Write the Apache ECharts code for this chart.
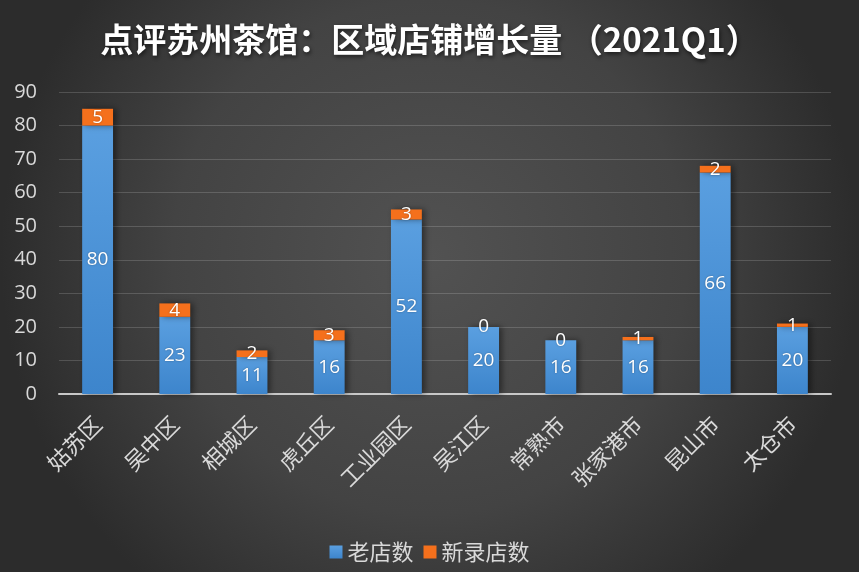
<!DOCTYPE html>
<html><head><meta charset="utf-8">
<script src="https://cdn.jsdelivr.net/npm/echarts@6/dist/echarts.min.js"></script>
<style>html,body{margin:0;padding:0;background:#3a3a3a}#c{width:859px;height:572px}</style>
</head><body><div id="c"></div>
<script>
var categories = ['姑苏区','吴中区','相城区','虎丘区','工业园区','吴江区','常熟市','张家港市','昆山市','太仓市'];
var oldStores = [80,23,11,16,52,20,16,16,66,20];
var newStores = [5,4,2,3,3,0,0,1,2,1];
var yTicks = [0,10,20,30,40,50,60,70,80,90];
var seriesNames = ['老店数','新录店数'];
var titleText = '点评苏州茶馆：区域店铺增长量 （2021Q1）';

var font = '"Open Sans","Noto Sans CJK SC",sans-serif';
var cjk = '"Noto Sans CJK SC",sans-serif';
var chart = echarts.init(document.getElementById('c'));
var labelStyle = {show:true, position:'inside', color:'#ffffff', fontSize:19, fontFamily:font,
  textShadowColor:'rgba(0,0,0,0.35)', textShadowBlur:2};
chart.setOption({
  backgroundColor: {type:'radial', x:0.5, y:0.45, r:0.75,
    colorStops:[{offset:0,color:'#525252'},{offset:0.6,color:'#434343'},{offset:1,color:'#2c2c2c'}]},
  title: {text:titleText, left:'center', top:18,
    textStyle:{color:'#ffffff', fontSize:33, fontWeight:'bold', fontFamily:cjk,
      textShadowColor:'rgba(0,0,0,0.6)', textShadowBlur:4, textShadowOffsetX:1, textShadowOffsetY:2}},
  legend: {data:seriesNames, bottom:4, left:'center', itemWidth:13, itemHeight:13, itemGap:10,
    icon:'rect', textStyle:{color:'#d9d9d9', fontSize:22, fontFamily:cjk}},
  grid: {left:59, right:28, top:92, bottom:178},
  xAxis: {type:'category', data:categories,
    axisLine:{lineStyle:{color:'#c8c8c8', width:2}}, axisTick:{show:false},
    axisLabel:{rotate:45, color:'#d9d9d9', fontSize:22, margin:26, interval:0, fontFamily:cjk}},
  yAxis: {type:'value', min:yTicks[0], max:yTicks[yTicks.length-1], interval:10,
    axisLine:{show:false}, axisTick:{show:false},
    splitLine:{lineStyle:{color:'rgba(255,255,255,0.16)', width:1}},
    axisLabel:{color:'#d9d9d9', fontSize:20, margin:22, fontFamily:font}},
  series: [
    {name:seriesNames[0], type:'bar', stack:'s', data:oldStores, barWidth:'40%',
      itemStyle:{color:{type:'linear',x:0,y:0,x2:0,y2:1,colorStops:[{offset:0,color:'#5a9fe0'},{offset:1,color:'#3d85cc'}]},
        shadowColor:'rgba(0,0,0,0.45)', shadowBlur:6, shadowOffsetX:3, shadowOffsetY:0},
      label:labelStyle},
    {name:seriesNames[1], type:'bar', stack:'s', data:newStores, barWidth:'40%',
      itemStyle:{color:'#f5701c', shadowColor:'rgba(0,0,0,0.45)', shadowBlur:6, shadowOffsetX:3},
      label:labelStyle}
  ]
});
</script></body></html>
